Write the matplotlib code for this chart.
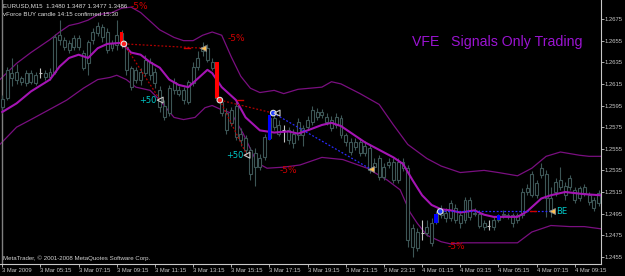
import matplotlib
matplotlib.use("Agg")
import matplotlib.pyplot as plt
import numpy as np

# ---------------- data ----------------
opens = [1.2601,1.2602,1.2625,1.2619,1.2620,1.2616,1.2625,1.2616,1.2625,1.2621,
         1.2621,1.2626,1.2656,1.2656,1.2653,1.2649,1.2657,1.2644,1.2634,1.2656,
         1.2662,1.2668,1.2663,1.2648,1.2651,1.2662,1.2649,1.2630,1.2619,1.2626,
         1.2625,1.2635,1.2626,1.2609,1.2595,1.2588,1.2609,1.2609,1.2609,1.2598,
         1.2616,1.2631,1.2645,1.2648,1.2635,1.2633,1.2598,1.2588,1.2579,1.2595,
         1.2569,1.2565,1.2554,1.2538,1.2546,1.2547,1.2565,1.2583,1.2577,1.2572,
         1.2572,1.2569,1.2568,1.2574,1.2575,1.2580,1.2589,1.2586,1.2584,1.2582,
         1.2577,1.2583,1.2568,1.2561,1.2557,1.2561,1.2551,1.2556,1.2542,1.2546,
         1.2529,1.2540,1.2543,1.2526,1.2543,1.2537,1.2482,1.2463,1.2477,1.2477,
         1.2468,1.2487,1.2494,1.2496,1.2491,1.2500,1.2494,1.2489,1.2508,1.2495,
         1.2495,1.2486,1.2484,1.2483,1.2489,1.2494,1.2494,1.2494,1.2489,1.2494,
         1.2515,1.2512,1.2523,1.2531,1.2532,1.2498,1.2515,1.2520,1.2521,1.2520,
         1.2517,1.2509,1.2520,1.2512,1.2508,1.2505]
highs = [1.2605,1.2631,1.2639,1.2633,1.2622,1.2628,1.2628,1.2626,1.2630,1.2628,
         1.2630,1.2661,1.2674,1.2658,1.2656,1.2660,1.2660,1.2646,1.2656,1.2667,
         1.2672,1.2670,1.2667,1.2656,1.2674,1.2665,1.2652,1.2632,1.2631,1.2630,
         1.2642,1.2639,1.2630,1.2613,1.2600,1.2614,1.2620,1.2613,1.2612,1.2619,
         1.2635,1.2645,1.2654,1.2652,1.2639,1.2635,1.2602,1.2593,1.2594,1.2600,
         1.2574,1.2568,1.2557,1.2556,1.2550,1.2569,1.2586,1.2587,1.2582,1.2577,
         1.2575,1.2573,1.2583,1.2577,1.2585,1.2595,1.2593,1.2592,1.2588,1.2585,
         1.2588,1.2586,1.2570,1.2565,1.2565,1.2565,1.2562,1.2559,1.2546,1.2549,
         1.2542,1.2546,1.2546,1.2546,1.2546,1.2540,1.2485,1.2482,1.2489,1.2489,
         1.2491,1.2497,1.2503,1.2500,1.2508,1.2504,1.2496,1.2510,1.2510,1.2500,
         1.2498,1.2489,1.2489,1.2493,1.2495,1.2498,1.2496,1.2496,1.2496,1.2519,
         1.2522,1.2534,1.2526,1.2542,1.2535,1.2520,1.2528,1.2538,1.2524,1.2531,
         1.2520,1.2521,1.2522,1.2515,1.2510,1.2517]
lows = [1.2588,1.2600,1.2613,1.2615,1.2614,1.2613,1.2615,1.2614,1.2620,1.2619,
        1.2619,1.2624,1.2651,1.2646,1.2644,1.2646,1.2646,1.2628,1.2623,1.2652,
        1.2659,1.2654,1.2644,1.2645,1.2646,1.2648,1.2623,1.2609,1.2616,1.2614,
        1.2622,1.2619,1.2611,1.2589,1.2582,1.2585,1.2606,1.2604,1.2596,1.2596,
        1.2613,1.2628,1.2641,1.2635,1.2628,1.2600,1.2585,1.2569,1.2576,1.2563,
        1.2558,1.2549,1.2526,1.2521,1.2535,1.2545,1.2563,1.2572,1.2567,1.2561,
        1.2559,1.2556,1.2563,1.2558,1.2572,1.2577,1.2582,1.2583,1.2577,1.2571,
        1.2574,1.2565,1.2558,1.2549,1.2554,1.2548,1.2548,1.2533,1.2535,1.2526,
        1.2526,1.2537,1.2523,1.2523,1.2534,1.2464,1.2455,1.2460,1.2471,1.2474,
        1.2465,1.2485,1.2491,1.2487,1.2488,1.2486,1.2482,1.2486,1.2489,1.2493,
        1.2482,1.2480,1.2480,1.2480,1.2487,1.2491,1.2490,1.2483,1.2486,1.2491,
        1.2512,1.2510,1.2509,1.2528,1.2492,1.2492,1.2511,1.2517,1.2508,1.2517,
        1.2505,1.2507,1.2511,1.2503,1.2497,1.2502]
closes = [1.2594,1.2628,1.2620,1.2626,1.2617,1.2625,1.2617,1.2623,1.2625,1.2625,
          1.2626,1.2658,1.2660,1.2649,1.2646,1.2657,1.2649,1.2630,1.2654,1.2663,
          1.2669,1.2658,1.2646,1.2653,1.2660,1.2651,1.2628,1.2612,1.2628,1.2619,
          1.2637,1.2623,1.2616,1.2594,1.2584,1.2611,1.2617,1.2606,1.2600,1.2617,
          1.2631,1.2639,1.2649,1.2637,1.2630,1.2602,1.2588,1.2572,1.2591,1.2566,
          1.2563,1.2554,1.2532,1.2551,1.2538,1.2566,1.2583,1.2575,1.2569,1.2572,
          1.2563,1.2560,1.2580,1.2568,1.2582,1.2591,1.2584,1.2589,1.2580,1.2574,
          1.2584,1.2568,1.2561,1.2552,1.2561,1.2551,1.2558,1.2535,1.2538,1.2529,
          1.2538,1.2543,1.2526,1.2543,1.2537,1.2471,1.2464,1.2478,1.2477,1.2483,
          1.2486,1.2495,1.2498,1.2491,1.2505,1.2489,1.2486,1.2508,1.2492,1.2496,
          1.2484,1.2483,1.2484,1.2489,1.2493,1.2495,1.2493,1.2486,1.2494,1.2515,
          1.2519,1.2532,1.2512,1.2537,1.2509,1.2509,1.2524,1.2526,1.2512,1.2528,
          1.2508,1.2519,1.2514,1.2506,1.2500,1.2514]

# Bollinger-style envelope (bar index, price)
mid_idx = [0,3,6,10,12,14,16,18,20,22,25,27,29,31,33,35,37,39,41,43,44,46,49,51,54,57,60,62,64,67,69,71,
           73,76,79,82,84,86,88,90,92,94,96,99,101,103,106,108,110,113,115,118,120,122,125.4]
mid_val = [1.2589,1.2597,1.2608,1.2619,1.2631,1.2639,1.2642,1.2639,1.2648,1.2652,1.2653,1.2644,1.2642,
           1.2635,1.2630,1.2619,1.2614,1.2612,1.2620,1.2628,1.2625,1.2612,1.2600,1.2584,1.2572,1.2570,
           1.2571,1.2569,1.2572,1.2577,1.2579,1.2576,1.2570,1.2561,1.2554,1.2547,1.2541,1.2526,1.2512,
           1.2503,1.2499,1.2498,1.2496,1.2498,1.2494,1.2492,1.2492,1.2492,1.2497,1.2509,1.2512,1.2515,
           1.2514,1.2513,1.2512]
up_idx = [-0.5,3,6,10,12,14,16,18,20,23,25,27,29,31,33,36,38,40,42,44,46,48,50,52,54,57,59,62,
          67,69,71,75,79,82,85,89,92,94,96,101,104,108,111,114,117,121,123,125.4]
up_val = [1.2619,1.2634,1.2644,1.2656,1.2663,1.2669,1.2671,1.2674,1.2679,1.2681,1.2685,1.2686,1.2681,
          1.2673,1.2665,1.2658,1.2655,1.2655,1.2660,1.2663,1.2660,1.2640,1.2622,1.2611,1.2607,1.2609,
          1.2606,1.2610,1.2612,1.2617,1.2615,1.2606,1.2596,1.2577,1.2559,1.2546,1.2539,1.2536,1.2533,
          1.2535,1.2533,1.2530,1.2537,1.2548,1.2552,1.2549,1.2548,1.2548]
lo_idx = [-0.5,3,6,10.6,13.5,17,20,22.6,24,26,28,31,33,36,38,40.4,42.5,44,46,48,50.5,53.4,55.5,59,62.4,
          67,71.4,76.5,80.7,83.4,85.5,87,89,92,94,96.5,101,104.3,108,111,115,119,122,125.4]
lo_val = [1.2559,1.2575,1.2582,1.2593,1.2600,1.2611,1.2619,1.2621,1.2623,1.2619,1.2612,1.2609,1.2600,
          1.2584,1.2582,1.2584,1.2593,1.2595,1.2591,1.2588,1.2569,1.2542,1.2537,1.2538,1.2540,1.2547,
          1.2545,1.2537,1.2526,1.2517,1.2496,1.2486,1.2475,1.2469,1.2467,1.2468,1.2468,1.2468,1.2468,
          1.2478,1.2484,1.2483,1.2483,1.2481]

# signal bars
sig_idx = [25, 45, 56, 91, 104]
sig_top = [1.2663, 1.2635, 1.2586, 1.2495, 1.2494]
sig_bot = [1.2651, 1.2602, 1.2563, 1.2486, 1.2489]
sig_col = ["#ff0000", "#ff0000", "#0000ff", "#0000ff", "#0000ff"]

# entry circles
entry_idx = [25.5, 45.6, 56.8, 91.8]
entry_val = [1.2652, 1.2600, 1.2588, 1.2497]
entry_col = ["#ff2020", "#ff2020", "#2040ff", "#2040ff"]

# trade lines (from entry to exit)
trade_x0 = [25.5, 25.5, 45.6, 45.6, 56.8, 91.8]
trade_y0 = [1.2652, 1.2652, 1.2600, 1.2600, 1.2588, 1.2497]
trade_x1 = [42.1, 33.1, 56.8, 51.3, 77.3, 115.2]
trade_y1 = [1.2648, 1.2600, 1.2588, 1.2549, 1.2536, 1.2497]
trade_col = ["#b00000", "#b00000", "#b00000", "#b00000", "#2a2aff", "#2a2aff"]

# close arrows
exit_idx = [42.1, 77.3, 115.2]
exit_val = [1.2648, 1.2536, 1.2497]
target_idx = [33.1, 51.3, 57.6]
target_val = [1.2600, 1.2549, 1.2588]
stop_idx = [38.7, 49.8, 111.3]
stop_val = [1.2648, 1.2600, 1.2497]

# annotations
loss_idx = [26.8, 47.3, 58.2, 93.4]
loss_val = [1.2687, 1.2657, 1.2535, 1.2465]
loss_txt = ["-5%", "-5%", "-5%", "-5%"]
gain_idx = [32.4, 50.5, 116.1]
gain_val = [1.2600, 1.2549, 1.2497]
gain_txt = ["+50", "+50", "BE"]

yticks = [1.2455, 1.2475, 1.2495, 1.2515, 1.2535, 1.2555, 1.2575, 1.2595, 1.2615, 1.2635, 1.2655, 1.2675]
xtick_idx = [0, 8, 16, 24, 32, 40, 48, 56, 64, 72, 80, 88, 96, 104, 112, 120]
xtick_lbl = ["3 Mar 2009", "3 Mar 05:15", "3 Mar 07:15", "3 Mar 09:15", "3 Mar 11:15", "3 Mar 13:15",
             "3 Mar 15:15", "3 Mar 17:15", "3 Mar 19:15", "3 Mar 21:15", "3 Mar 23:15", "4 Mar 01:15",
             "4 Mar 03:15", "4 Mar 05:15", "4 Mar 07:15", "4 Mar 09:15"]

# ---------------- drawing ----------------
W, H = 625, 276
fig = plt.figure(figsize=(W / 100, H / 100), dpi=100)
fig.patch.set_facecolor("black")
ax = fig.add_axes([0, 12 / H, 600.5 / W, 264 / H])
ax.set_facecolor("black")
ax.set_xlim(-0.48, 125.4)
ax.set_ylim(1.24484, 1.26926)

small = ["Liberation Sans", "DejaVu Sans"]

# envelope
ax.plot(up_idx, up_val, color="#7a0f80", lw=0.9, zorder=1)
ax.plot(lo_idx, lo_val, color="#7a0f80", lw=0.9, zorder=1)

# candles
candle_col = "#3d5656"
idx = np.arange(len(closes))
o = np.array(opens); c = np.array(closes); h = np.array(highs); l = np.array(lows)
doji = np.isclose(o, c)
ax.vlines(idx[~doji], l[~doji], h[~doji], color=candle_col, lw=0.8, zorder=2)
ax.vlines(idx[doji], l[doji], h[doji], color="#c8c8c8", lw=0.8, zorder=2)
ax.hlines(c[doji], idx[doji] - 0.3, idx[doji] + 0.3, color="#c8c8c8", lw=0.8, zorder=3)
bt = np.maximum(o, c); bb = np.minimum(o, c)
nd = ~doji
ax.bar(idx[nd], (bt - bb)[nd], bottom=bb[nd], width=0.62, facecolor="black",
       edgecolor=candle_col, linewidth=0.8, zorder=3)

ax.plot(mid_idx, mid_val, color="#a514b4", lw=1.5, zorder=4)

# signal bars
for i, t, b, col in zip(sig_idx, sig_top, sig_bot, sig_col):
    ax.bar(i, t - b, bottom=b, width=0.8, color=col, linewidth=0, zorder=5)

# trade lines
for x0, y0, x1, y1, col in zip(trade_x0, trade_y0, trade_x1, trade_y1, trade_col):
    ax.plot([x0, x1], [y0, y1], color=col, lw=0.9, ls=(0, (1.5, 1.5)), zorder=5)
for x, y in zip(stop_idx, stop_val):
    ax.plot([x - 0.6, x + 0.6], [y, y], color="#d00000", lw=1.0, zorder=6)

ax.scatter(entry_idx, entry_val, s=16, c=entry_col, edgecolors="#e0e0e0", linewidths=0.8, zorder=7)
ax.scatter(exit_idx, exit_val, s=18, marker="<", c="#ffc050", edgecolors="#909090", linewidths=0.6, zorder=7)
ax.scatter(target_idx, target_val, s=18, marker="<", facecolors="none", edgecolors="#c8c8c8", linewidths=0.8, zorder=7)

for x, y, t in zip(loss_idx, loss_val, loss_txt):
    ax.text(x, y, t, color="#d00000", fontsize=6.5, ha="left", va="center", family=["DejaVu Sans"], zorder=8)
for x, y, t in zip(gain_idx, gain_val, gain_txt):
    ha = "right" if t != "BE" else "left"
    ax.text(x, y, t, color="#00c8c8", fontsize=6, ha=ha, va="center", family=["DejaVu Sans"], zorder=8)

# left grey line
ax.axvline(-0.13, color="#808080", lw=1.0, zorder=1)

# axes styling
for s in ["top", "left"]:
    ax.spines[s].set_visible(False)
for s in ["right", "bottom"]:
    ax.spines[s].set_color("#c8c8c8")
    ax.spines[s].set_linewidth(0.8)
ax.yaxis.tick_right()
ax.set_yticks(yticks)
ax.set_yticklabels([f"{v:.4f}" for v in yticks])
ax.set_xticks(xtick_idx)
ax.set_xticklabels(xtick_lbl)
ax.tick_params(axis="both", colors="#c8c8c8", labelsize=4.2, length=2, width=0.6, pad=1.2)
for lbl in ax.get_xticklabels():
    lbl.set_ha("left")
    lbl.set_family(small)
for lbl in ax.get_yticklabels():
    lbl.set_family(small)

# header texts
fig.text(3 / W, 1 - 6 / H, "EURUSD,M15  1.3480 1.3487 1.3477 1.3486", color="#e0e0e0",
         fontsize=4.4, va="center", ha="left", family=small)
fig.text(3 / W, 1 - 15 / H, "vForce BUY candle 14:15 confirmed 15:30", color="#e0e0e0",
         fontsize=4.4, va="center", ha="left", family=small)
fig.text(412 / W, 1 - 42 / H, "VFE   Signals Only Trading", color="#9b14d2",
         fontsize=10.2, va="center", ha="left", family=["Liberation Sans", "DejaVu Sans"])
fig.text(3 / W, 1 - 258 / H, "MetaTrader, \u00a9 2001-2008 MetaQuotes Software Corp.", color="#d0d0d0",
         fontsize=4.4, va="center", ha="left", family=small)

fig.savefig("out.png", dpi=100, facecolor="black")
